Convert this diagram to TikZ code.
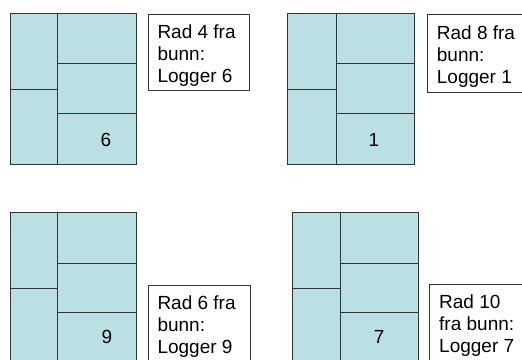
\documentclass[tikz,border=0pt]{standalone}
\usepackage{fontspec}
\setmainfont{Liberation Sans}
\definecolor{logfill}{HTML}{BBE0E3}
\definecolor{logline}{HTML}{333333}
\newcommand{\logstack}[8]{%
  % #1 x0, #2 x1, #3 x2, #4 y0, #5 yL, #6 yR1, #7 yR2, #8 y3
  \fill[logfill] (#1,#4) rectangle (#3,#8);
  \draw[cellline] (#1,#4) rectangle (#3,#8);
  \draw[cellline] (#2,#4) -- (#2,#8);
  \draw[cellline] (#1,#5) -- (#2,#5);
  \draw[cellline] (#2,#6) -- (#3,#6);
  \draw[cellline] (#2,#7) -- (#3,#7);
}
\begin{document}
\begin{tikzpicture}[x=1bp,y=-1bp,
  cellline/.style={draw=logline,line width=0.9bp},
  labelbox/.style={draw=logline,line width=0.9bp,fill=white,anchor=north west,inner sep=0pt},
  labeltext/.style={anchor=north west,inner sep=0pt,align=left,
    font=\fontsize{19bp}{22bp}\selectfont},
  numtext/.style={inner sep=0pt,font=\fontsize{19bp}{22bp}\selectfont}]
\useasboundingbox (0,0) rectangle (522,359);
% stacks
\logstack{10}{57.3}{136}{13.3}{89.3}{63.3}{113.3}{164}
\logstack{287.7}{336}{414.3}{13.3}{89.3}{63.3}{113.3}{164}
\logstack{10}{57.3}{136}{212.3}{288.3}{263}{312.7}{363}
\logstack{292}{340.3}{418.3}{212.3}{288.3}{263}{312.7}{363}
% numbers
\node[numtext] (n6) at (106,140) {6};
\node[numtext] (n1) at (373.8,140) {1};
\node[numtext] (n9) at (107,337) {9};
\node[numtext] (n7) at (379.2,337) {7};
% label boxes
\node[labelbox,minimum width=101.6bp,minimum height=76bp] (ba) at (147.7,14) {};
\node[labelbox,minimum width=113bp,minimum height=77.4bp] (bb) at (427,14.3) {};
\node[labelbox,minimum width=102bp,minimum height=85bp] (bc) at (148.3,285) {};
\node[labelbox,minimum width=113bp,minimum height=86bp] (bd) at (429,284) {};
% label texts
\node[labeltext] (ta) at (157.3,24.4) {Rad 4 fra\\bunn:\\Logger 6};
\node[labeltext] (tb) at (436.7,25.1) {Rad 8 fra\\bunn:\\Logger 1};
\node[labeltext] (tc) at (157.3,295.3) {Rad 6 fra\\bunn:\\Logger 9};
\node[labeltext] (td) at (439,295) {Rad 10\\fra bunn:\\Logger 7};
\end{tikzpicture}
\end{document}
